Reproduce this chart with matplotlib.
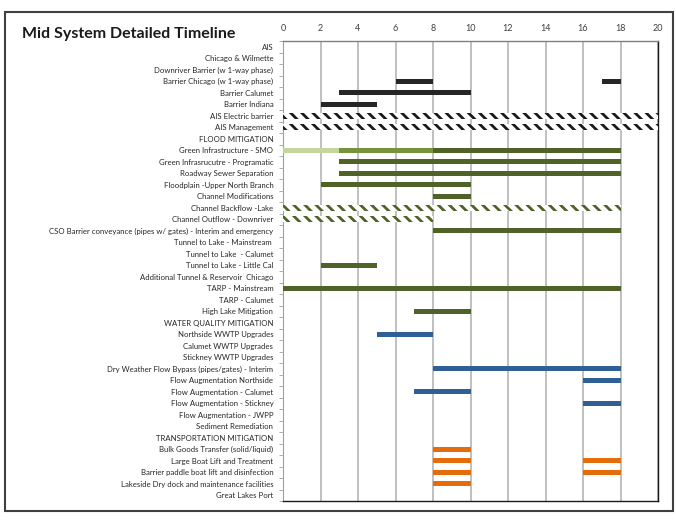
import matplotlib.pyplot as plt
from matplotlib.patches import Rectangle

# task rows, top to bottom
labels = [
    "AIS", "Chicago & Wilmette", "Downriver Barrier (w 1-way phase)",
    "Barrier Chicago (w 1-way phase)", "Barrier Calumet", "Barrier Indiana",
    "AIS Electric barrier", "AIS Management", "FLOOD MITIGATION",
    "Green Infrastructure - SMO", "Green Infrasrucutre - Programatic",
    "Roadway Sewer Separation", "Floodplain -Upper North Branch",
    "Channel Modifications", "Channel Backflow -Lake",
    "Channel Outflow - Downriver",
    "CSO Barrier conveyance (pipes w/ gates) - Interim and emergency",
    "Tunnel to Lake - Mainstream ", "Tunnel to Lake  - Calumet",
    "Tunnel to Lake - Little Cal", "Additional Tunnel & Reservoir  Chicago",
    "TARP - Mainstream", "TARP - Calumet", "High Lake Mitigation",
    "WATER QUALITY MITIGATION", "Northside WWTP Upgrades",
    "Calumet WWTP Upgrades", "Stickney WWTP Upgrades",
    "Dry Weather Flow Bypass (pipes/gates) - Interim",
    "Flow Augmentation Northside", "Flow Augmentation - Calumet",
    "Flow Augmentation - Stickney", "Flow Augmentation - JWPP",
    "Sediment Remediation", "TRANSPORTATION MITIGATION",
    "Bulk Goods Transfer (solid/liquid)", "Large Boat Lift and Treatment",
    "Barrier paddle boat lift and disinfection",
    "Lakeside Dry dock and maintenance facilities", "Great Lakes Port",
]

# (row, start year, end year)
ais_bars = [(3, 6, 8), (3, 17, 18), (4, 3, 10), (5, 2, 5)]
ais_hatched = [(6, 0, 20), (7, 0, 20)]
smo_light = [(9, 0, 3)]
smo_mid = [(9, 3, 8)]
flood_bars = [(9, 8, 18), (10, 3, 18), (11, 3, 18), (12, 2, 10), (13, 8, 10),
              (16, 8, 18), (19, 2, 5), (21, 0, 18), (23, 7, 10)]
flood_hatched = [(14, 0, 18), (15, 0, 8)]
wq_bars = [(25, 5, 8), (28, 8, 18), (29, 16, 18), (30, 7, 10), (31, 16, 18)]
trans_bars = [(35, 8, 10), (36, 8, 10), (36, 16, 18), (37, 8, 10),
              (37, 16, 18), (38, 8, 10)]

plt.rcParams['font.family'] = ['Lato', 'DejaVu Sans']
plt.rcParams['hatch.linewidth'] = 2.0

fig = plt.figure(figsize=(6.76, 5.23), dpi=100)
ax = fig.add_axes([283 / 676, 1 - 501 / 523, 375 / 676, 460 / 523])


def draw(bars, color, h=0.45, hatch=None):
    for row, a, b in bars:
        if hatch:
            ax.barh(row, b - a, left=a, height=0.55, color='white',
                    edgecolor=color, hatch=hatch, linewidth=0, zorder=3)
        else:
            ax.barh(row, b - a, left=a, height=h, color=color, zorder=3)


draw(ais_bars, '#262626')
draw(ais_hatched, '#1a1a1a', hatch='\\\\\\')
draw(smo_light, '#c3d69b')
draw(smo_mid, '#77933c')
draw(flood_bars, '#4f6228')
draw(flood_hatched, '#4f6228', hatch='\\\\\\')
draw(wq_bars, '#2f5f95')
draw(trans_bars, '#e46c0a')

ax.set_xlim(0, 20)
ax.set_ylim(len(labels) - 0.5, -0.5)
ax.set_xticks(range(0, 21, 2))
ax.xaxis.tick_top()
ax.tick_params(axis='x', length=0, labelsize=6.5, labelcolor='#404040', pad=6)
ax.set_yticks(range(len(labels)))
ax.set_yticklabels(labels, fontsize=5.6, color='#262626')
ax.set_yticks([i - 0.5 for i in range(len(labels) + 1)], minor=True)
ax.tick_params(axis='y', which='major', length=0, pad=7)
ax.tick_params(axis='y', which='minor', length=3, color='#a0a0a0')
ax.grid(axis='x', color='#c0c0c0', linewidth=1.4, zorder=0)
ax.set_axisbelow(True)
for s in ['top', 'right', 'bottom']:
    ax.spines[s].set_color('#1a1a1a')
    ax.spines[s].set_linewidth(1.0)
ax.spines['left'].set_color('#a0a0a0')
ax.spines['top'].set_color('#808080')

fig.text(22 / 676, 1 - 38 / 523, "Mid System Detailed Timeline",
         fontsize=11.5, fontweight='bold', color='#1a1a1a')

fig.patches.append(Rectangle((5 / 676, 1 - 511 / 523), 668 / 676, 499 / 523,
                             transform=fig.transFigure, fill=False,
                             edgecolor='#404040', linewidth=1.5))

fig.savefig('out.png', dpi=100)
